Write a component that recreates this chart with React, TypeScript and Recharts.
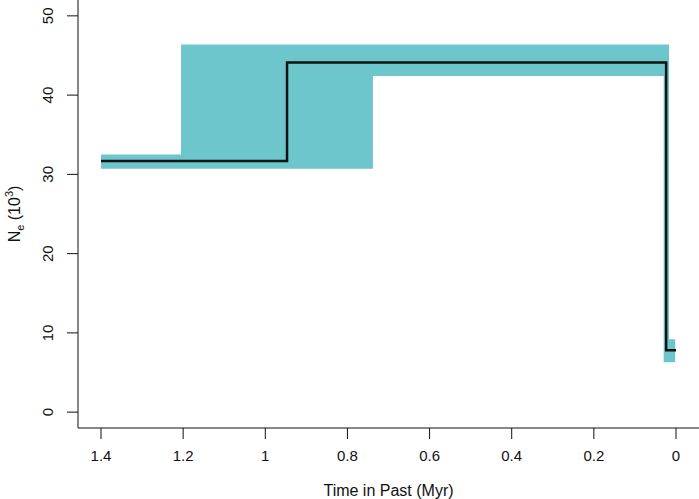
import React from "react";
import { ComposedChart, XAxis, YAxis, Area, Line } from "recharts";

// time in past (Myr), going from old to recent
const bandTime = [1.4, 1.205, 1.205, 0.738, 0.738, 0.03, 0.03, 0.017, 0.017, 0.002];
const bandLow = [30.7, 30.7, 30.7, 30.7, 42.4, 42.4, 6.3, 6.3, 6.3, 6.3];
const bandHigh = [32.5, 32.5, 46.4, 46.4, 46.4, 46.4, 46.4, 46.4, 9.2, 9.2];

const neTime = [1.4, 0.947, 0.947, 0.024, 0.024, 0];
const neValue = [31.7, 31.7, 44.1, 44.1, 7.8, 7.8];

const xTicks = [1.4, 1.2, 1, 0.8, 0.6, 0.4, 0.2, 0];
const yTicks = [0, 10, 20, 30, 40, 50];

const bandData = bandTime.map((t, i) => ({ t, range: [bandLow[i], bandHigh[i]] }));
const neData = neTime.map((t, i) => ({ t, ne: neValue[i] }));

const FONT = "'Liberation Sans', Arial, sans-serif";

const XTick = (props: any) => {
  const { x, y, payload } = props;
  return (
    <text x={x} y={y + 22} textAnchor="middle" fontSize={15} fontFamily={FONT} fill="#111">
      {payload.value}
    </text>
  );
};

const YTick = (props: any) => {
  const { y, payload } = props;
  const x = 53;
  return (
    <text
      x={x}
      y={y}
      textAnchor="middle"
      fontSize={15}
      fontFamily={FONT}
      fill="#111"
      transform={`rotate(-90, ${x}, ${y})`}
    >
      {payload.value}
    </text>
  );
};

const XTitle = (props: any) => {
  const vb = props.viewBox;
  return (
    <text
      x={vb.x + vb.width / 2}
      y={vb.y + 68}
      textAnchor="middle"
      fontSize={16}
      fontFamily={FONT}
      fill="#111"
    >
      Time in Past (Myr)
    </text>
  );
};

const YTitle = (props: any) => {
  const vb = props.viewBox;
  const x = vb.x + 20;
  const y = vb.y + vb.height / 2;
  return (
    <text
      x={x}
      y={y}
      textAnchor="middle"
      fontSize={16}
      fontFamily={FONT}
      fill="#111"
      transform={`rotate(-90, ${x}, ${y})`}
    >
      <tspan>N</tspan>
      <tspan fontSize={11} dy={4}>e</tspan>
      <tspan dy={-4}> (10</tspan>
      <tspan fontSize={11} dy={-7}>3</tspan>
      <tspan dy={7}>)</tspan>
    </text>
  );
};

export default function App() {
  return (
    <div style={{ position: "absolute", left: 0, top: 0, background: "#fff" }}>
      <ComposedChart width={699} height={499} margin={{ top: 0, right: 0, bottom: 0, left: 0 }}>
        <XAxis
          type="number"
          dataKey="t"
          domain={[-0.056, 1.456]}
          reversed
          allowDataOverflow
          ticks={xTicks}
          interval={0}
          height={71}
          tickSize={11}
          tickMargin={0}
          stroke="#111"
          tick={<XTick />}
          label={<XTitle />}
        />
        <YAxis
          type="number"
          domain={[-2, 52]}
          allowDataOverflow
          ticks={yTicks}
          interval={0}
          width={78}
          tickSize={11}
          tickMargin={0}
          stroke="#111"
          tick={<YTick />}
          label={<YTitle />}
        />
        <Area
          data={bandData}
          dataKey="range"
          type="linear"
          fill="#6cc6cc"
          fillOpacity={1}
          stroke="none"
          isAnimationActive={false}
          activeDot={false}
        />
        <Line
          data={neData}
          dataKey="ne"
          type="linear"
          stroke="#111"
          strokeWidth={2.5}
          dot={false}
          activeDot={false}
          isAnimationActive={false}
        />
      </ComposedChart>
    </div>
  );
}
